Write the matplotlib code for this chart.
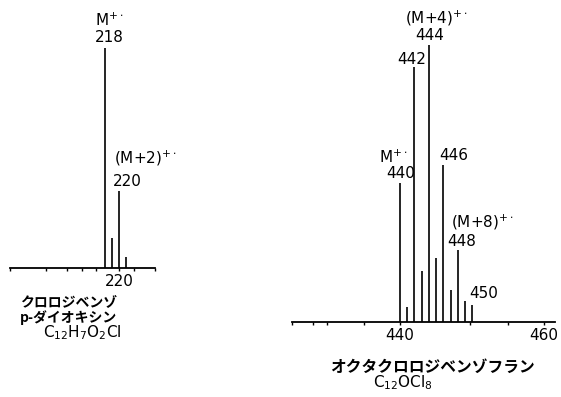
import matplotlib
matplotlib.use('Agg')
import matplotlib.pyplot as plt

# Chlorodibenzo-p-dioxin (left spectrum), relative intensity, M+ = 100
mz_left = [218, 219, 220, 221]
int_left = [100, 13.6, 35, 5]
major_left = [220]
minor_left = [204.4, 209.5, 212.5, 214.6, 216.7, 222.1, 225.0]

# Octachlorodibenzofuran (right spectrum), relative intensity, 444 = 100
mz_right = [440, 441, 442, 443, 444, 445, 446, 447, 448, 449, 450]
int_right = [50.2, 5.4, 92.1, 18.4, 100, 23.1, 56.7, 11.6, 26, 7.6, 6.1]
major_right = [440, 460]
minor_right = [425, 427.9, 429.9, 435, 449.7, 455]

W, H = 561, 397
plt.rcParams['font.family'] = ['DejaVu Sans', 'Noto Sans CJK JP']
plt.rcParams['mathtext.fontset'] = 'dejavusans'

fig = plt.figure(figsize=(W / 100, H / 100), dpi=100)


def px(x, y):
    # pixel position (from top-left) -> figure fraction
    return x / W, 1 - y / H


def spectrum_axes(x0, x1, base, top, xlim, mz, inten, majors, minors):
    ax = fig.add_axes([x0 / W, 1 - base / H, (x1 - x0) / W, (base - top) / H])
    ax.vlines(mz, 0, inten, color='black', lw=1.2)
    ax.set_xlim(*xlim)
    ax.set_ylim(0, 100)
    for s in ['top', 'right', 'left']:
        ax.spines[s].set_visible(False)
    ax.spines['bottom'].set_linewidth(1.3)
    ax.set_yticks([])
    ax.set_xticks(majors)
    ax.set_xticks(minors, minor=True)
    ax.tick_params(axis='x', which='both', direction='out', length=2.5,
                   width=1, labelsize=11, pad=2)
    ax.set_facecolor('none')
    return ax


ax1 = spectrum_axes(10, 155, 268, 48, (204.4, 225.07), mz_left, int_left,
                    major_left, minor_left)
ax2 = spectrum_axes(292, 555, 322, 45, (425, 461.5), mz_right, int_right,
                    major_right, minor_right)

fs = 11
peak_labels = [
    # text, x, y (pixels)
    (r"M$^{+\cdot}$", 109, 20),
    ("218", 109, 38),
    (r"(M+2)$^{+\cdot}$", 145, 158),
    ("220", 127, 182),
    (r"(M+4)$^{+\cdot}$", 436, 18),
    ("444", 430, 35),
    ("442", 412, 60),
    (r"M$^{+\cdot}$", 393, 157),
    ("440", 401, 173),
    ("446", 454, 156),
    (r"(M+8)$^{+\cdot}$", 482, 222),
    ("448", 462, 241),
    ("450", 484, 293),
]
for txt, x, y in peak_labels:
    fig.text(*px(x, y), txt, fontsize=fs, ha='center', va='center')

jp = ['Noto Sans CJK JP', 'DejaVu Sans']
fig.text(*px(20, 303), "クロロジベンゾ", fontsize=10, family=jp, weight='bold',
         ha='left', va='center')
fig.text(*px(20, 318), "p-ダイオキシン", fontsize=10, family=jp, weight='bold',
         ha='left', va='center')
fig.text(*px(82, 333), r"C$_{12}$H$_7$O$_2$Cl", fontsize=fs, ha='center', va='center')
fig.text(*px(432, 367), "オクタクロロジベンゾフラン", fontsize=11.3, family=jp,
         weight='bold', ha='center', va='center')
fig.text(*px(403, 383), r"C$_{12}$OCl$_8$", fontsize=fs, ha='center', va='center')

fig.savefig("out.png", dpi=100)
